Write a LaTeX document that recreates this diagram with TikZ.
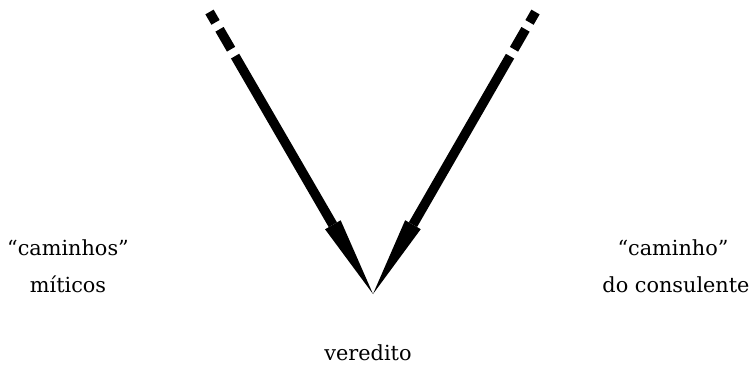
\documentclass[tikz,border=0pt]{standalone}
\usepackage{fontspec}
\setmainfont{DejaVu Serif}
\usetikzlibrary{arrows.meta}
\begin{document}
\begin{tikzpicture}[x=1pt,y=-1pt,
  conn/.style={line width=9.5pt, line cap=butt,
    dash pattern=on 12pt off 8pt on 23pt off 8pt on 600pt,
    -{Triangle[length=80pt,width=18pt,line width=0pt]}},
  lbl/.style={font=\fontsize{20.8}{24}\selectfont, anchor=base, inner sep=0pt}]
\useasboundingbox (0,0) rectangle (754,364);
\coordinate (T) at (373,294);
\coordinate (L) at (209.5,12);
\coordinate (R) at (535.5,12);
\draw[conn] (L) -- (T);
\draw[conn] (R) -- (T);
\node[lbl] (c1) at (68,255) {“caminhos”};
\node[lbl] (m1) at (68,292) {míticos};
\node[lbl] (c2) at (673,255) {“caminho”};
\node[lbl] (d2) at (676,292) {do consulente};
\node[lbl] (v) at (368,360) {veredito};
\end{tikzpicture}
\end{document}
